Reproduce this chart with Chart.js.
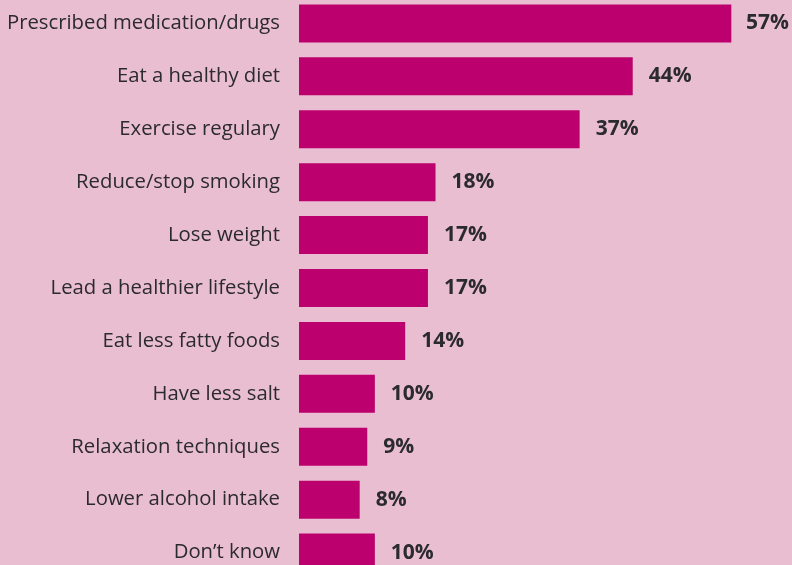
<!DOCTYPE html>
<html>
<head>
<meta charset="utf-8">
<script src="https://cdn.jsdelivr.net/npm/chart.js@4"></script>
<style>
    html, body { margin: 0; padding: 0; overflow: hidden; background: #e9bed1; }
    #wrap { position: absolute; left: 0; top: -3.5px; width: 792px; height: 582px; }
</style>
</head>
<body>
<div id="wrap"><canvas id="chart"></canvas></div>
<script>
// Chart data
const categories = [
    'Prescribed medication/drugs',
    'Eat a healthy diet',
    'Exercise regulary',
    'Reduce/stop smoking',
    'Lose weight',
    'Lead a healthier lifestyle',
    'Eat less fatty foods',
    'Have less salt',
    'Relaxation techniques',
    'Lower alcohol intake',
    'Don\u2019t know'
];
const percentages = [57, 44, 37, 18, 17, 17, 14, 10, 9, 8, 10];

const textColor = '#2b2a2c';
const barColor = '#bc006d';

// Draw value labels after the bars
const valueLabels = {
    id: 'valueLabels',
    afterDatasetsDraw(chart) {
        const ctx = chart.ctx;
        const meta = chart.getDatasetMeta(0);
        ctx.save();
        ctx.font = 'bold 21px "Open Sans"';
        ctx.fillStyle = textColor;
        ctx.textBaseline = 'middle';
        ctx.textAlign = 'left';
        meta.data.forEach((bar, i) => {
            const text = percentages[i] + '%';
            const w = ctx.measureText(text).width;
            const x = Math.min(bar.x + 16, chart.width - w - 3);
            ctx.fillText(text, x, bar.y);
        });
        ctx.restore();
    }
};

new Chart(document.getElementById('chart'), {
    type: 'bar',
    data: {
        labels: categories,
        datasets: [{
            data: percentages,
            backgroundColor: barColor,
            borderWidth: 0,
            categoryPercentage: 1,
            barPercentage: 0.718
        }]
    },
    options: {
        indexAxis: 'y',
        responsive: true,
        maintainAspectRatio: false,
        animation: false,
        layout: { padding: 0 },
        plugins: {
            legend: { display: false },
            tooltip: { enabled: false }
        },
        scales: {
            x: {
                display: false,
                min: 0,
                max: 65
            },
            y: {
                border: { display: false },
                grid: { display: false, drawTicks: false },
                ticks: {
                    color: textColor,
                    padding: 19,
                    font: { family: '"Open Sans"', size: 20.3 }
                },
                afterFit(scale) {
                    scale.width = 299;
                    scale.paddingTop = 0;
                    scale.paddingBottom = 0;
                }
            }
        }
    },
    plugins: [valueLabels]
});
</script>
</body>
</html>
